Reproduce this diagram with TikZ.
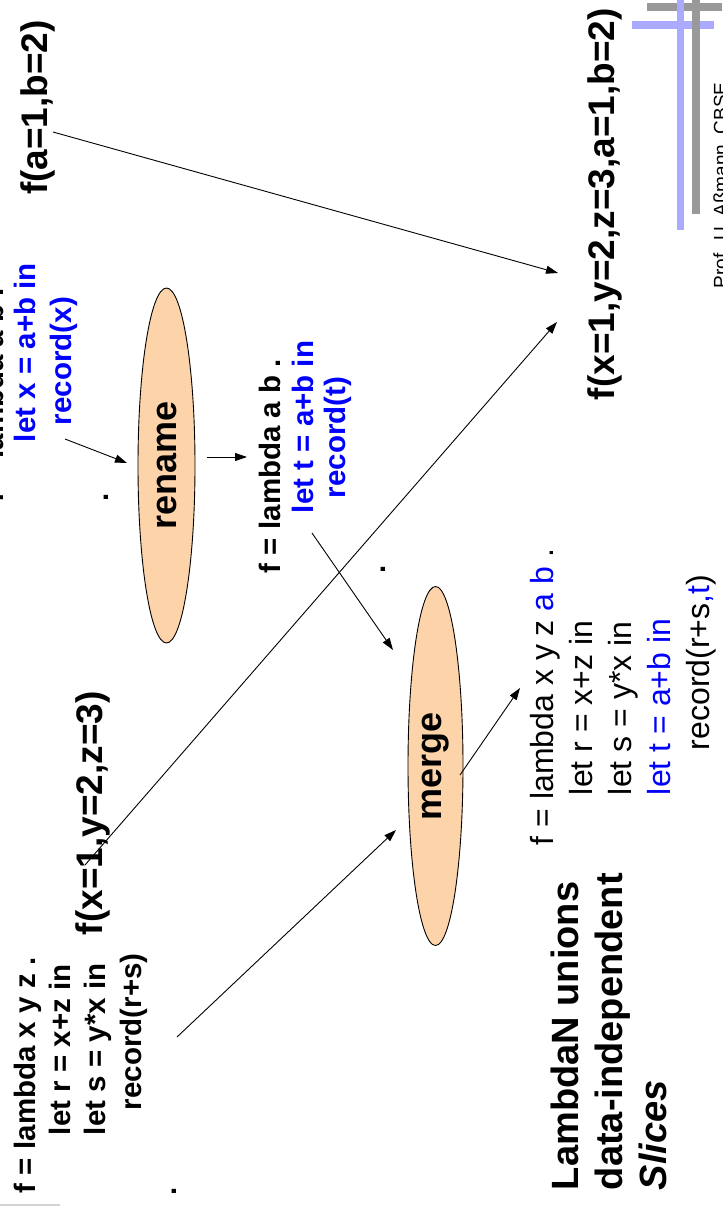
\documentclass[tikz,border=0pt]{standalone}
\usepackage{fontspec}
\setmainfont{Liberation Sans}
\usetikzlibrary{arrows.meta,shapes.geometric}
\definecolor{peach}{HTML}{FDD4A9}
\definecolor{codeblue}{HTML}{0000FF}
\definecolor{barblue}{HTML}{AAAAFF}
\definecolor{bargray}{HTML}{999999}
\begin{document}
\begin{tikzpicture}[x=1pt,y=-1pt,
  txt/.style={rotate=90,anchor=base west,inner sep=0pt,outer sep=0pt},
  big/.style={txt,font=\fontsize{37}{44}\selectfont\bfseries},
  code/.style={txt,font=\fontsize{29.5}{35}\selectfont\bfseries},
  plaincode/.style={txt,font=\fontsize{32}{38}\selectfont},
  titletxt/.style={txt,font=\fontsize{38}{44}\selectfont\bfseries},
  bluetxt/.style={text=codeblue},
  oval/.style={ellipse,draw=black,line width=0.9pt,fill=peach,inner sep=0pt,rotate=90,
    font=\fontsize{36}{42}\selectfont\bfseries},
  conn/.style={line width=0.9pt,-{Triangle[length=12pt,width=8pt]}}
]
\useasboundingbox (0,0) rectangle (722,1206);
\fill[white] (0,0) rectangle (722,1206);
\clip (0,0) rectangle (722,1206);

% decoration bars
\fill[bargray] (647,3) rectangle (722,11);
\fill[barblue] (632,21) rectangle (714,29);
\fill[barblue] (677,0) rectangle (684,230);
\fill[bargray] (692,0) rectangle (700,214);
\draw[gray!35,line width=1.5pt] (0,1205) -- (60,1205);

% footer
\node[txt,font=\fontsize{19}{23}\selectfont] (footer) at (727,288) {Prof. U. Aßmann, CBSE};

% ellipses
\node[oval,minimum width=355pt,minimum height=57pt] (rename) at (166.5,465.5) {rename};
\node[oval,minimum width=359pt,minimum height=55pt] (merge) at (435.5,766) {merge};

% big labels
\node[big] (fab) at (47,195) {f(a=1,b=2)};
\node[big] (fxyz) at (102,935) {f(x=1,y=2,z=3)};
\node[big] (fall) at (614,400) {f(x=1,y=2,z=3,a=1,b=2)};

% block A (top left, partly cut)
\node[code] (a1) at (4,502) {f = lambda a b .};
\node[code,bluetxt] (a2) at (35,442) {let x = a+b in};
\node[code,bluetxt] (a3) at (71,425) {record(x)};

% block B (after rename)
\node[code] (b1) at (280,573) {f = lambda a b .};
\node[code,bluetxt] (b2) at (313,513) {let t = a+b in};
\node[code,bluetxt] (b3) at (345,498) {record(t)};

% block C (bottom left)
\node[code] (c1) at (35,1193) {f = lambda x y z .};
\node[code] (c2) at (70,1135) {let r = x+z in};
\node[code] (c3) at (105,1135) {let s = y*x in};
\node[code] (c4) at (141,1110) {record(r+s)};

% loose dots
\node[code] (dot1) at (108,501) {.};
\node[code] (dot2) at (385,573) {.};
\node[code] (dot3) at (176,1195) {.};

% block D (merge result)
\node[plaincode] (d1) at (553,845) {f = lambda x y z \textcolor{codeblue}{a b} .};
\node[plaincode] (d2) at (592,795) {let r = x+z in};
\node[plaincode] (d3) at (631,795) {let s = y*x in};
\node[plaincode,bluetxt] (d4) at (670,795) {let t = a+b in};
\node[plaincode] (d5) at (709,750) {record(r+s\textcolor{codeblue}{,t})};

% title
\node[titletxt] (t1) at (578,1190) {LambdaN unions};
\node[titletxt] (t2) at (622,1190) {data-independent};
\node[titletxt] (t3) at (666,1190) {\itshape Slices};

% connector end points
\coordinate (fabOut) at (53,132);
\coordinate (fallInA) at (558,273);
\coordinate (fxyzOut) at (85,865);
\coordinate (fallInB) at (557,322);
\coordinate (aOut) at (65,439);
\coordinate (renameIn) at (127,463);
\coordinate (renameOut) at (207,457);
\coordinate (bIn) at (247,457);
\coordinate (bOut) at (312,533);
\coordinate (mergeInA) at (393,650);
\coordinate (cOut) at (177,1037);
\coordinate (mergeInB) at (396,830);
\coordinate (mergeOut) at (460,775);
\coordinate (dIn) at (520,688);

\draw[conn] (fabOut) -- (fallInA);
\draw[conn] (fxyzOut) -- (fallInB);
\draw[conn] (aOut) -- (renameIn);
\draw[conn] (renameOut) -- (bIn);
\draw[conn] (bOut) -- (mergeInA);
\draw[conn] (cOut) -- (mergeInB);
\draw[conn] (mergeOut) -- (dIn);
\end{tikzpicture}
\end{document}
